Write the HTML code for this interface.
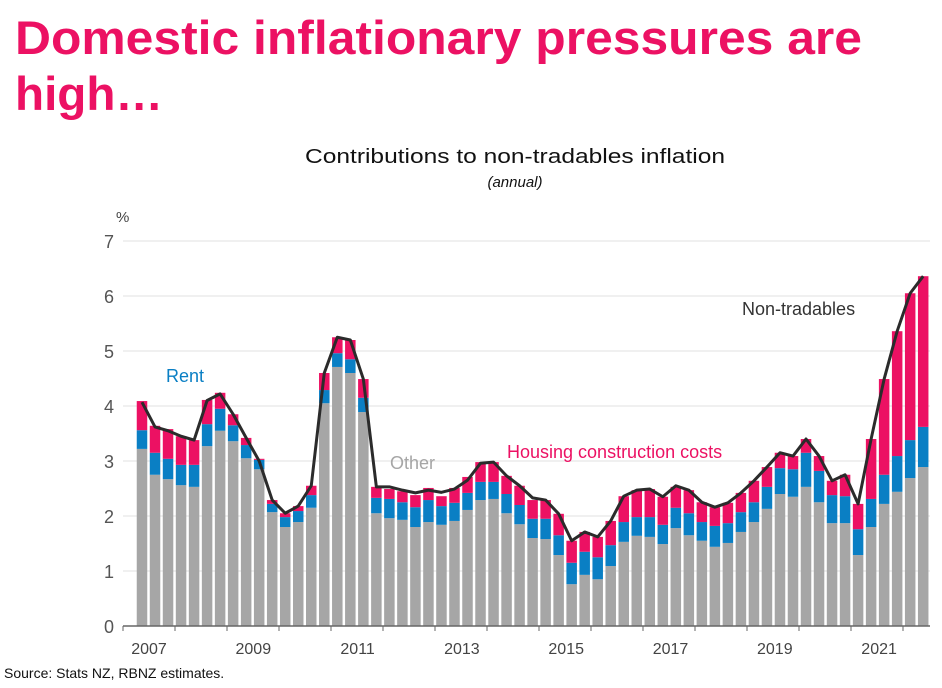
<!DOCTYPE html>
<html><head><meta charset="utf-8"><style>
html,body{margin:0;padding:0;background:#fff;}
svg{display:block;font-family:"Liberation Sans",sans-serif;}
</style></head><body>
<svg id="chart" width="942" height="688" viewBox="0 0 942 688" xmlns="http://www.w3.org/2000/svg">
<text x="15" y="54" font-size="47" font-weight="bold" fill="#ec1163" textLength="847" lengthAdjust="spacingAndGlyphs">Domestic inflationary pressures are</text>
<text x="15" y="110" font-size="47" font-weight="bold" fill="#ec1163" textLength="148" lengthAdjust="spacingAndGlyphs">high…</text>
<text x="515" y="163" font-size="20" fill="#111" text-anchor="middle" textLength="420" lengthAdjust="spacingAndGlyphs">Contributions to non-tradables inflation</text>
<text x="515" y="187" font-size="15" font-style="italic" fill="#111" text-anchor="middle">(annual)</text>
<text x="116" y="222" font-size="15" fill="#444">%</text>
<g id="grid"></g>
<g id="bars"></g>
<g id="line"></g>
<g id="xaxis"></g>
<text x="166" y="382" font-size="18" fill="#0a7fc4">Rent</text>
<text x="390" y="469" font-size="18" fill="#a6a6a6">Other</text>
<text x="507" y="458" font-size="18" fill="#ec1163">Housing construction costs</text>
<text x="742" y="315" font-size="18" fill="#333">Non-tradables</text>
<text x="4" y="678" font-size="14" fill="#111">Source: Stats NZ, RBNZ estimates.</text>
</svg>
<script>
const other=[3.22,2.75,2.67,2.56,2.53,3.27,3.55,3.36,3.05,2.85,2.07,1.80,1.89,2.15,4.05,4.71,4.60,3.89,2.05,1.96,1.93,1.80,1.89,1.84,1.91,2.11,2.29,2.31,2.05,1.85,1.60,1.58,1.29,0.76,0.93,0.85,1.09,1.53,1.64,1.62,1.49,1.78,1.65,1.55,1.44,1.51,1.71,1.89,2.13,2.40,2.35,2.53,2.25,1.87,1.87,1.29,1.80,2.22,2.44,2.69,2.89];
const rentTop=[3.56,3.15,3.04,2.93,2.93,3.67,3.95,3.65,3.29,3.02,2.22,1.98,2.09,2.38,4.29,4.96,4.85,4.15,2.33,2.31,2.25,2.16,2.29,2.18,2.24,2.42,2.62,2.62,2.40,2.20,1.95,1.95,1.65,1.15,1.35,1.25,1.47,1.89,1.98,1.98,1.84,2.15,2.05,1.89,1.82,1.87,2.07,2.25,2.53,2.87,2.85,3.15,2.82,2.38,2.36,1.76,2.31,2.75,3.09,3.38,3.62];
const totalTop=[4.09,3.64,3.58,3.45,3.38,4.11,4.24,3.85,3.42,3.04,2.29,2.05,2.18,2.55,4.60,5.25,5.20,4.49,2.53,2.49,2.45,2.38,2.51,2.36,2.51,2.71,2.98,2.98,2.73,2.55,2.29,2.29,2.04,1.55,1.71,1.62,1.91,2.36,2.47,2.49,2.35,2.53,2.47,2.25,2.16,2.24,2.42,2.64,2.89,3.15,3.09,3.40,3.09,2.64,2.75,2.22,3.40,4.49,5.36,6.05,6.36];
const nonTradables=[4.07,3.62,3.55,3.45,3.38,4.10,4.22,3.85,3.42,3.00,2.29,2.05,2.18,2.55,4.60,5.25,5.20,4.49,2.53,2.53,2.47,2.42,2.47,2.43,2.49,2.65,2.96,2.98,2.73,2.55,2.33,2.29,2.04,1.55,1.71,1.62,1.91,2.36,2.47,2.49,2.35,2.55,2.47,2.25,2.16,2.24,2.42,2.64,2.89,3.15,3.09,3.40,3.09,2.64,2.75,2.22,3.40,4.49,5.36,6.05,6.36];
const yTicks=[0,1,2,3,4,5,6,7];
const yearLabels=["2007","2009","2011","2013","2015","2017","2019","2021"];
const NS="http://www.w3.org/2000/svg";
const y0=626,pxPerUnit=55,x0=142,step=13.02,bw=10.5;
const Y=v=>y0-v*pxPerUnit;
const X=i=>x0+i*step;
function mk(tag,attrs,parent){const e=document.createElementNS(NS,tag);for(const k in attrs)e.setAttribute(k,attrs[k]);parent.appendChild(e);return e;}
const grid=document.getElementById('grid');
yTicks.forEach(t=>{
 if(t>0){const l=mk('line',{x1:123,x2:930,y1:Y(t),y2:Y(t),stroke:'#e6e6e6','stroke-width':1.2},grid);
 
 }
 const tx=mk('text',{x:114,y:Y(t)+7,'font-size':18,fill:'#555','text-anchor':'end'},grid);
 tx.textContent=t;
 
 
});
const bars=document.getElementById('bars');
other.forEach((v,i)=>{
 const x=X(i)-bw/2;
 const r1=mk('rect',{x:x,y:Y(v),width:bw,height:v*pxPerUnit,fill:'#a6a6a6'},bars);
 
 
 const r2=mk('rect',{x:x,y:Y(rentTop[i]),width:bw,height:(rentTop[i]-v)*pxPerUnit,fill:'#0a7fc4'},bars);
 
 
 const r3=mk('rect',{x:x,y:Y(totalTop[i]),width:bw,height:Math.max(0,(totalTop[i]-rentTop[i])*pxPerUnit),fill:'#ec1163'},bars);
 
 
});
const lg=document.getElementById('line');
const pl=mk('polyline',{points:nonTradables.map((v,i)=>X(i)+','+Y(v)).join(' '),fill:'none',stroke:'#2b2b2b','stroke-width':3,'stroke-linejoin':'round'},lg);


const xa=document.getElementById('xaxis');
const ax=mk('line',{x1:123,x2:930,y1:y0,y2:y0,stroke:'#666','stroke-width':1.5},xa);


for(let k=0;k<=15;k++){
 const tx=123+k*52;
 const tk=mk('line',{x1:tx,x2:tx,y1:y0,y2:y0+5,stroke:'#666','stroke-width':1},xa);
 
 
}
yearLabels.forEach((s,k)=>{
 const t=mk('text',{x:149+k*104.3,y:654,'font-size':16,fill:'#444','text-anchor':'middle'},xa);
 t.textContent=s;
 
 
});
</script>
</body></html>
